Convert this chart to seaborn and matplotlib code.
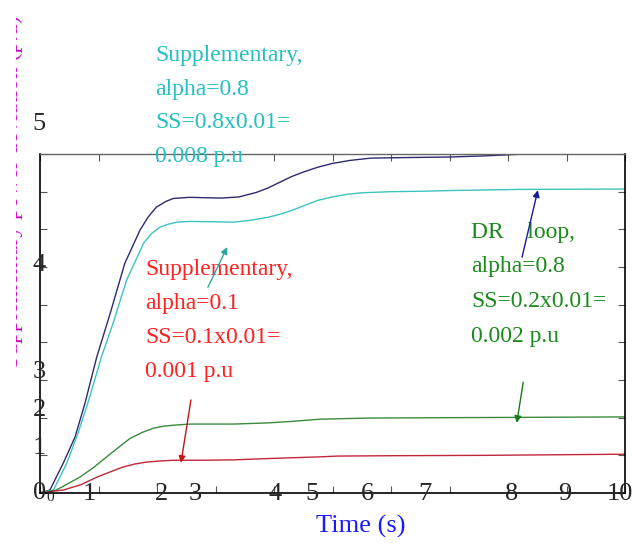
import numpy as np
import pandas as pd
import seaborn as sns
import matplotlib
matplotlib.use('Agg')
import matplotlib.pyplot as plt
from matplotlib.transforms import Bbox

# curve values (time in s, deviation in units of 0.001 p.u)
t_blue = [0, 0.17, 0.4, 0.6, 0.77, 0.97, 1.2, 1.45, 1.71, 1.85, 1.99, 2.15, 2.28, 2.56, 2.8,
          3.1, 3.4, 3.7, 3.9, 4.1, 4.3, 4.5, 4.75, 5.0, 5.3, 5.65, 6.0, 6.5, 7.0, 7.6, 8.3, 10]
v_blue = [0, 0.08, 0.8, 1.49, 2.39, 3.61, 4.77, 6.1, 6.98, 7.33, 7.59, 7.74, 7.82, 7.85, 7.84,
          7.83, 7.86, 7.98, 8.1, 8.25, 8.4, 8.52, 8.65, 8.75, 8.83, 8.89, 8.9, 8.91, 8.92, 8.95,
          9.0, 9.0]

t_cyan = [0, 0.23, 0.46, 0.65, 0.85, 1.05, 1.25, 1.48, 1.77, 1.9, 2.05, 2.2, 2.34, 2.56, 3.0,
          3.3, 3.6, 3.9, 4.1, 4.3, 4.5, 4.75, 5.0, 5.25, 5.5, 6.0, 6.5, 7.0, 8.2, 10]
v_cyan = [0, 0.08, 0.8, 1.59, 2.55, 3.61, 4.51, 5.65, 6.63, 6.88, 7.06, 7.14, 7.19, 7.21, 7.2,
          7.19, 7.24, 7.32, 7.4, 7.5, 7.62, 7.77, 7.86, 7.93, 7.97, 8.0, 8.01, 8.03, 8.06, 8.07]

t_green = [0, 0.28, 0.68, 0.9, 1.14, 1.35, 1.54, 1.75, 1.94, 2.1, 2.28, 2.56, 3.3, 3.88, 4.3,
           4.79, 5.64, 7.0, 8.5, 10]
v_green = [0, 0.08, 0.42, 0.66, 0.96, 1.22, 1.45, 1.61, 1.72, 1.77, 1.80, 1.83, 1.83, 1.86,
           1.9, 1.96, 1.99, 2.0, 2.01, 2.02]

t_red = [0, 0.4, 0.7, 0.97, 1.2, 1.42, 1.62, 1.82, 2.05, 2.28, 2.8, 3.3, 4.0, 4.79, 5.08, 6.0,
         7.64, 10]
v_red = [0, 0.08, 0.22, 0.42, 0.56, 0.69, 0.77, 0.82, 0.85, 0.87, 0.87, 0.88, 0.92, 0.96, 0.98,
         0.99, 1.0, 1.03]

# tick labels as they sit in the picture
xlab = ['0', '1', '2', '3', '4', '5', '6', '7', '8', '9', '10']
xlab_pos = [0.17, 0.85, 2.08, 2.65, 4.02, 4.65, 5.59, 6.58, 8.07, 8.97, 9.91]
ylab = ['0', '1', '2', '3', '4', '5']
ylab_pos = [0, 1.2, 2.2, 3.2, 6.05, 9.8]

txt_cyan = 'Supplementary,\nalpha=0.8\nSS=0.8x0.01=\n0.008 p.u'
txt_red = 'Supplementary,\nalpha=0.1\nSS=0.1x0.01=\n0.001 p.u'
txt_green = 'DR    loop,\nalpha=0.8\nSS=0.2x0.01=\n0.002 p.u'

sns.set_style('white')
plt.rcParams['font.family'] = ['Liberation Serif', 'DejaVu Serif']

fig = plt.figure(figsize=(6.4, 5.44), dpi=100)
ax = fig.add_axes([40/640, 51/544, 585/640, 339/544])

sns.lineplot(x=t_blue, y=v_blue, ax=ax, color='#2e2a6e', lw=1.0, estimator=None, sort=False)
sns.lineplot(x=t_cyan, y=v_cyan, ax=ax, color='#3cc4c0', lw=1.0, estimator=None, sort=False)
sns.lineplot(x=t_green, y=v_green, ax=ax, color='#3a8a3e', lw=1.0, estimator=None, sort=False)
sns.lineplot(x=t_red, y=v_red, ax=ax, color='#c0283a', lw=1.0, estimator=None, sort=False)

ax.set_xlim(0, 10)
ax.set_ylim(0, 9)
ax.set_xticks(range(0, 11))
ax.set_yticks(range(0, 10))
ax.set_xticklabels([])
ax.set_yticklabels([])
ax.tick_params(direction='in', length=5, width=0.8, color='#555555',
               top=True, right=True, bottom=True, left=True)
for s in ['left', 'bottom', 'right']:
    ax.spines[s].set_color('black')
    ax.spines[s].set_linewidth(1.2)
ax.spines['top'].set_color('#666666')
ax.spines['top'].set_linewidth(1.0)

# misplaced tick labels
for i, (p, l) in enumerate(zip(xlab_pos, xlab)):
    fs = 11 if i == 0 else 19
    yy = -0.12 if i == 0 else -0.03
    ax.text(p, yy, l, ha='center', va='center', fontsize=fs, clip_on=False)
for p, l in zip(ylab_pos, ylab):
    ax.text(-0.01, p, l, ha='center', va='center', fontsize=19, clip_on=False)

ax.set_xlabel('Time (s)', fontsize=19, color='#1a1aff')
ax.xaxis.set_label_coords((361 - 40) / 585, -0.065)
ax.set_ylabel('')

# y label, cut off at the left edge in the original
ylbl = fig.text(23/640, 1 - 192/544, 'Supplementary power deviation (p.u)', rotation=90,
                ha='right', va='center', fontsize=17, color='#cc00cc')
ylbl.set_clip_box(Bbox([[16, 0], [30, 544]]))
ylbl.set_clip_on(True)

# annotations
ax.text(1.97, 11.9, txt_cyan, color='#22c0c0', fontsize=17, ha='left', va='top',
        linespacing=1.8, clip_on=False)
ax.text(1.795, 6.2, txt_red, color='#ff2020', fontsize=17, ha='left', va='top',
        linespacing=1.8)
ax.text(7.37, 7.2, txt_green, color='#1a8a1a', fontsize=17, ha='left', va='top',
        linespacing=1.85)

arrow = dict(arrowstyle='-|>', lw=1.0, mutation_scale=10, shrinkA=0, shrinkB=0)
ax.annotate('', xy=(3.2, 6.53), xytext=(2.87, 5.46), arrowprops=dict(arrow, color='#2aa8a8'))
ax.annotate('', xy=(2.41, 0.80), xytext=(2.58, 2.47), arrowprops=dict(arrow, color='#c01818'))
ax.annotate('', xy=(8.51, 8.04), xytext=(8.24, 6.26), arrowprops=dict(arrow, color='#1a1a9a'))
ax.annotate('', xy=(8.15, 1.86), xytext=(8.26, 2.94), arrowprops=dict(arrow, color='#1a7a1a'))

fig.savefig('out.png', dpi=100)
